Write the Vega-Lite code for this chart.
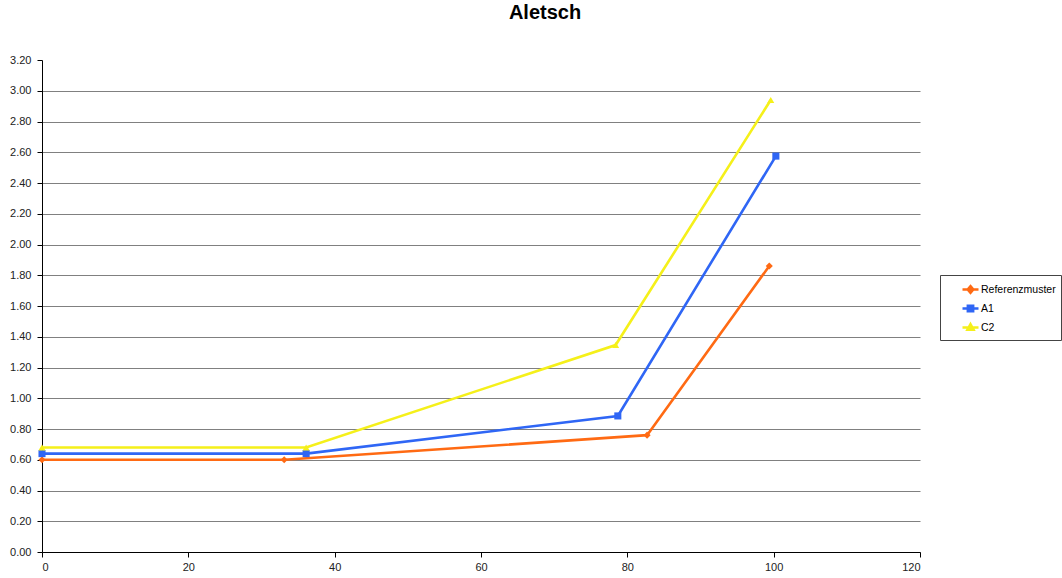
{
  "$schema": "https://vega.github.io/schema/vega-lite/v6.json",
  "width": 878,
  "height": 492,
  "autosize": {"type": "none"},
  "padding": {"left": 42, "top": 60, "right": 142, "bottom": 26},
  "background": "white",
  "title": {
    "text": "Aletsch",
    "font": "Liberation Sans",
    "fontSize": 20,
    "fontWeight": "bold",
    "color": "black",
    "anchor": "middle",
    "dx": 64,
    "offset": 31
  },
  "config": {
    "view": {"stroke": null},
    "axis": {
      "labelFont": "Liberation Sans",
      "labelFontSize": 11,
      "labelColor": "#222",
      "domainColor": "black",
      "tickColor": "black",
      "tickSize": 5,
      "title": null
    }
  },
  "data": {
    "values": [
      {"series": "Referenzmuster", "x": 0, "y": 0.60},
      {"series": "Referenzmuster", "x": 33.1, "y": 0.60},
      {"series": "Referenzmuster", "x": 82.7, "y": 0.76},
      {"series": "Referenzmuster", "x": 99.4, "y": 1.86},
      {"series": "A1", "x": 0, "y": 0.64},
      {"series": "A1", "x": 36.1, "y": 0.64},
      {"series": "A1", "x": 78.7, "y": 0.885},
      {"series": "A1", "x": 100.3, "y": 2.575},
      {"series": "C2", "x": 0, "y": 0.68},
      {"series": "C2", "x": 36.1, "y": 0.68},
      {"series": "C2", "x": 78.4, "y": 1.346},
      {"series": "C2", "x": 99.6, "y": 2.94}
    ]
  },
  "encoding": {
    "x": {
      "field": "x",
      "type": "quantitative",
      "scale": {"domain": [0, 120], "nice": false},
      "axis": {"values": [0, 20, 40, 60, 80, 100, 120], "grid": false, "labelPadding": 4}
    },
    "y": {
      "field": "y",
      "type": "quantitative",
      "scale": {"domain": [0, 3.2], "nice": false},
      "axis": {
        "values": [0, 0.2, 0.4, 0.6, 0.8, 1.0, 1.2, 1.4, 1.6, 1.8, 2.0, 2.2, 2.4, 2.6, 2.8, 3.0, 3.2],
        "format": ".2f",
        "grid": true,
        "gridColor": "#808080",
        "gridWidth": 1.2,
        "gridOpacity": {"condition": {"test": "datum.value >= 3.19", "value": 0}, "value": 1},
        "labelPadding": 6
      }
    },
    "color": {
      "field": "series",
      "type": "nominal",
      "scale": {
        "domain": ["Referenzmuster", "A1", "C2"],
        "range": ["#ff6a13", "#2f66f5", "#f5f01a"]
      },
      "legend": {
        "title": null,
        "orient": "none",
        "legendX": 898,
        "legendY": 215,
        "symbolSize": 256,
        "symbolOffset": 16,
        "labelFont": "Liberation Sans",
        "labelFontSize": 10.5,
        "labelColor": "black",
        "labelOffset": 1,
        "strokeColor": "#444",
        "padding": 5,
        "rowPadding": 1,
        "fillColor": "white",
        "encode": {
          "symbols": {
            "update": {
              "shape": {"signal": "datum.value === 'Referenzmuster' ? 'M-1,0L1,0M0,-0.42L0.36,0L0,0.42L-0.36,0Z' : datum.value === 'A1' ? 'M-1,0L1,0M-0.34,-0.34L0.34,-0.34L0.34,0.34L-0.34,0.34Z' : 'M-1,0L1,0M0,-0.44L0.4,0.3L-0.4,0.3Z'"},
              "fill": {"signal": "scale('color', datum.value)"},
              "stroke": {"signal": "scale('color', datum.value)"},
              "strokeWidth": {"value": 2.4},
              "opacity": {"value": 1}
            }
          }
        }
      }
    }
  },
  "layer": [
    {
      "mark": {"type": "line", "strokeWidth": 2.6},
      "encoding": {"detail": {"field": "series"}}
    },
    {
      "transform": [{"filter": "datum.series === 'Referenzmuster'"}],
      "mark": {"type": "point", "filled": true, "opacity": 1, "shape": "diamond", "size": 50}
    },
    {
      "transform": [{"filter": "datum.series === 'A1'"}],
      "mark": {"type": "point", "filled": true, "opacity": 1, "shape": "square", "size": 50}
    },
    {
      "transform": [{"filter": "datum.series === 'C2'"}],
      "mark": {"type": "point", "filled": true, "opacity": 1, "shape": "triangle-up", "size": 50}
    }
  ]
}
